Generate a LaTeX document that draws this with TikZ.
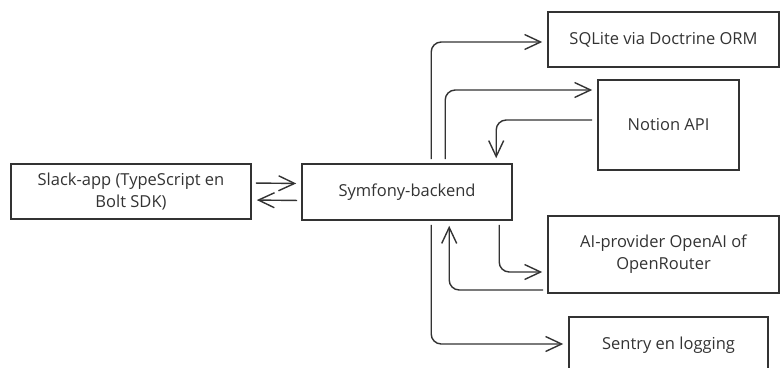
\documentclass[tikz,border=0pt]{standalone}
\usepackage{fontspec}
\setmainfont{Open Sans}
\usetikzlibrary{arrows.meta,calc}
\definecolor{ink}{HTML}{333333}
\begin{document}
\begin{tikzpicture}[x=1pt,y=-1pt,
  box/.style={draw=ink,line width=1.6pt,rectangle,align=center,inner sep=0pt,text=ink,font=\fontsize{16.5}{22}\selectfont},
  arr/.style={draw=ink,line width=1.4pt,rounded corners=10pt,shorten >=5pt,shorten <=4pt,-{Straight Barb[length=16pt,width=15pt,line width=1.4pt]}}]
\useasboundingbox (0,0) rectangle (781,367);
\node[box,minimum width=240pt,minimum height=55pt] (slack) at (131,191.5) {Slack-app (TypeScript en\\Bolt SDK)};
\node[box,minimum width=210pt,minimum height=56pt] (sym) at (407,192) {Symfony-backend};
\node[box,minimum width=231pt,minimum height=55pt] (sql) at (663.5,39.5) {SQLite via Doctrine ORM};
\node[box,minimum width=141pt,minimum height=90pt] (not) at (668.5,125) {Notion API};
\node[box,minimum width=231pt,minimum height=77pt] (ai) at (663.5,254.5) {AI-provider OpenAI of\\OpenRouter};
\node[box,minimum width=199pt,minimum height=56pt] (sen) at (668.5,345) {Sentry en logging};
% Slack <-> Symfony
\draw[arr] ($(slack.east)+(0,-8.5)$) -- ($(sym.west)+(0,-8.5)$);
\draw[arr] ($(sym.west)+(0,8.5)$) -- ($(slack.east)+(0,8.5)$);
% Symfony -> SQLite
\draw[arr] ($(sym.north west)+(130,0)$) |- ($(sql.west)+(0,2.5)$);
% Symfony -> Notion
\draw[arr] ($(sym.north west)+(144,0)$) |- ($(not.west)+(0,-35)$);
% Notion -> Symfony
\draw[arr,shorten <=0pt] ($(not.west)+(-5,-5)$) -| ($(sym.north west)+(195,0)$);
% Symfony -> AI
\draw[arr] ($(sym.south west)+(198,0)$) |- ($(ai.west)+(0,17.5)$);
% AI -> Symfony
\draw[arr,shorten <=0pt] ($(ai.west)+(-4,35.5)$) -| ($(sym.south west)+(148,0)$);
% Symfony -> Sentry
\draw[arr] ($(sym.south west)+(130,0)$) |- ($(sen.west)+(0,-1)$);
\end{tikzpicture}
\end{document}
